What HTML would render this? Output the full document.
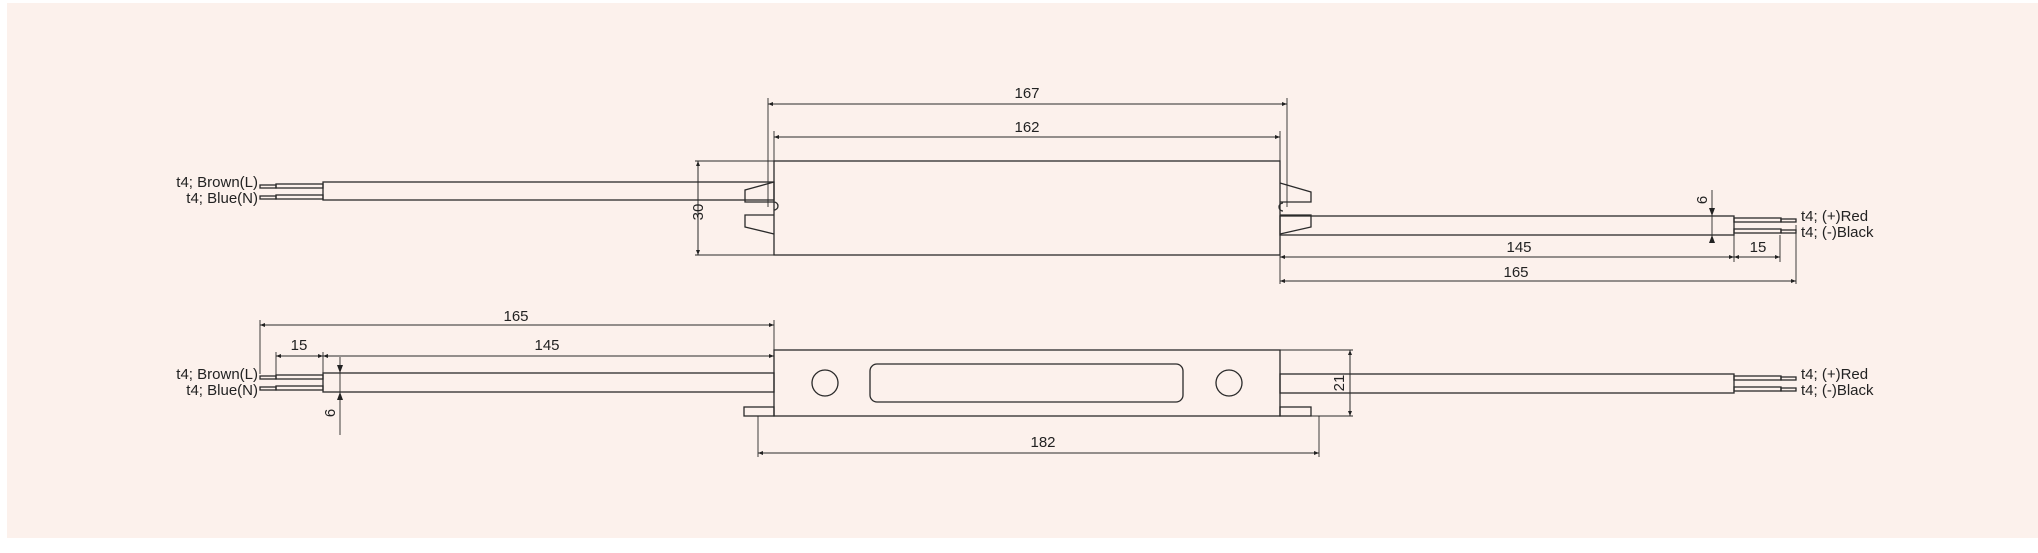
<!DOCTYPE html>
<html><head><meta charset="utf-8"><style>
html,body{margin:0;padding:0;background:#fff;}
svg{display:block;}
text{font-family:"Liberation Sans",sans-serif;fill:#222;font-size:15px;}
</style></head><body>
<svg width="2038" height="553" viewBox="0 0 2038 553" xmlns="http://www.w3.org/2000/svg">
<defs>
<marker id="a" viewBox="0 0 10 10" refX="10" refY="5" markerWidth="9" markerHeight="5" orient="auto-start-reverse" markerUnits="userSpaceOnUse"><path d="M0,1 L10,5 L0,9 z" fill="#222"/></marker>
</defs>
<rect x="7" y="3" width="2031" height="535" fill="#fcf1ec"/>
<g stroke="#2a2a2a" stroke-width="1.3" fill="none">
<rect x="774" y="161" width="506" height="94"/>
<path d="M774,182 L745,190 L745,202 L774,202"/>
<path d="M774,202 a4,4 0 0 1 0,8"/>
<path d="M774,215 L745,215 L745,227 L774,234"/>
<path d="M1280,183 L1311,192 L1311,202 L1280,202"/>
<path d="M1283,203 a4,4 0 0 0 0,8"/>
<path d="M1280,215 L1311,215 L1311,227 L1280,234"/>
<rect x="323" y="182" width="451" height="18"/>
<rect x="276" y="184" width="47" height="4"/><rect x="260" y="185" width="16" height="3"/>
<rect x="276" y="195" width="47" height="4"/><rect x="260" y="196" width="16" height="3"/>
<rect x="1280" y="216" width="454" height="19"/>
<rect x="1734" y="218" width="47" height="4"/><rect x="1781" y="219" width="15" height="3"/>
<rect x="1734" y="229" width="47" height="4"/><rect x="1781" y="230" width="15" height="3"/>
<g stroke-width="0.9">
<line x1="768" y1="98" x2="768" y2="207"/>
<line x1="1287" y1="98" x2="1287" y2="207"/>
<line x1="774" y1="131" x2="774" y2="161"/>
<line x1="1280" y1="131" x2="1280" y2="161"/>
<line x1="695" y1="161" x2="774" y2="161"/>
<line x1="695" y1="255" x2="774" y2="255"/>
<line x1="1280" y1="255" x2="1280" y2="284"/>
<line x1="1734" y1="235" x2="1734" y2="262"/>
<line x1="1780" y1="235" x2="1780" y2="262"/>
<line x1="1796" y1="225" x2="1796" y2="284"/>
<line x1="1712" y1="190" x2="1712" y2="243"/>
</g>
<g stroke-width="1" marker-start="url(#a)" marker-end="url(#a)">
<line x1="768" y1="104" x2="1287" y2="104"/>
<line x1="774" y1="137" x2="1280" y2="137"/>
<line x1="698" y1="161" x2="698" y2="255"/>
<line x1="1280" y1="257" x2="1734" y2="257"/>
<line x1="1734" y1="257" x2="1780" y2="257"/>
<line x1="1280" y1="281" x2="1796" y2="281"/>
</g>
<path d="M1712,216 L1709,208 L1715,208 z M1712,235 L1709,243 L1715,243 z" fill="#222" stroke="none"/>
<rect x="774" y="350" width="506" height="66"/>
<rect x="744" y="407" width="30" height="9"/>
<rect x="1280" y="407" width="31" height="9"/>
<circle cx="825" cy="383" r="13"/>
<circle cx="1229" cy="383" r="13"/>
<rect x="870" y="364" width="313" height="38" rx="7"/>
<rect x="323" y="373" width="451" height="19"/>
<rect x="276" y="375" width="47" height="4"/><rect x="260" y="376" width="16" height="3"/>
<rect x="276" y="386" width="47" height="4"/><rect x="260" y="387" width="16" height="3"/>
<rect x="1280" y="374" width="454" height="19"/>
<rect x="1734" y="376" width="47" height="4"/><rect x="1781" y="377" width="15" height="3"/>
<rect x="1734" y="387" width="47" height="4"/><rect x="1781" y="388" width="15" height="3"/>
<g stroke-width="0.9">
<line x1="260" y1="320" x2="260" y2="374"/>
<line x1="774" y1="320" x2="774" y2="350"/>
<line x1="276" y1="352" x2="276" y2="375"/>
<line x1="323" y1="352" x2="323" y2="373"/>
<line x1="1280" y1="350" x2="1353" y2="350"/>
<line x1="1311" y1="416" x2="1353" y2="416"/>
<line x1="758" y1="416" x2="758" y2="457"/>
<line x1="1319" y1="416" x2="1319" y2="457"/>
<line x1="340" y1="357" x2="340" y2="435"/>
</g>
<g stroke-width="1" marker-start="url(#a)" marker-end="url(#a)">
<line x1="260" y1="325" x2="774" y2="325"/>
<line x1="276" y1="356" x2="323" y2="356"/>
<line x1="323" y1="356" x2="774" y2="356"/>
<line x1="1350" y1="350" x2="1350" y2="416"/>
<line x1="758" y1="453" x2="1319" y2="453"/>
</g>
<path d="M340,373 L337,365 L343,365 z M340,392 L337,400 L343,400 z" fill="#222" stroke="none"/>
</g>
<text x="1027" y="98" text-anchor="middle">167</text>
<text x="1027" y="132" text-anchor="middle">162</text>
<text x="0" y="0" text-anchor="middle" transform="translate(703,212) rotate(-90)">30</text>
<text x="0" y="0" text-anchor="middle" transform="translate(1707,200) rotate(-90)">6</text>
<text x="1519" y="252" text-anchor="middle">145</text>
<text x="1758" y="252" text-anchor="middle">15</text>
<text x="1516" y="277" text-anchor="middle">165</text>
<text x="258" y="187" text-anchor="end">t4; Brown(L)</text>
<text x="258" y="203" text-anchor="end">t4; Blue(N)</text>
<text x="1801" y="221">t4; (+)Red</text>
<text x="1801" y="237">t4; (-)Black</text>
<text x="516" y="321" text-anchor="middle">165</text>
<text x="299" y="350" text-anchor="middle">15</text>
<text x="547" y="350" text-anchor="middle">145</text>
<text x="258" y="379" text-anchor="end">t4; Brown(L)</text>
<text x="258" y="395" text-anchor="end">t4; Blue(N)</text>
<text x="0" y="0" text-anchor="middle" transform="translate(335,413) rotate(-90)">6</text>
<text x="0" y="0" text-anchor="middle" transform="translate(1344,383) rotate(-90)">21</text>
<text x="1043" y="447" text-anchor="middle">182</text>
<text x="1801" y="379">t4; (+)Red</text>
<text x="1801" y="395">t4; (-)Black</text>
</svg>
</body></html>
